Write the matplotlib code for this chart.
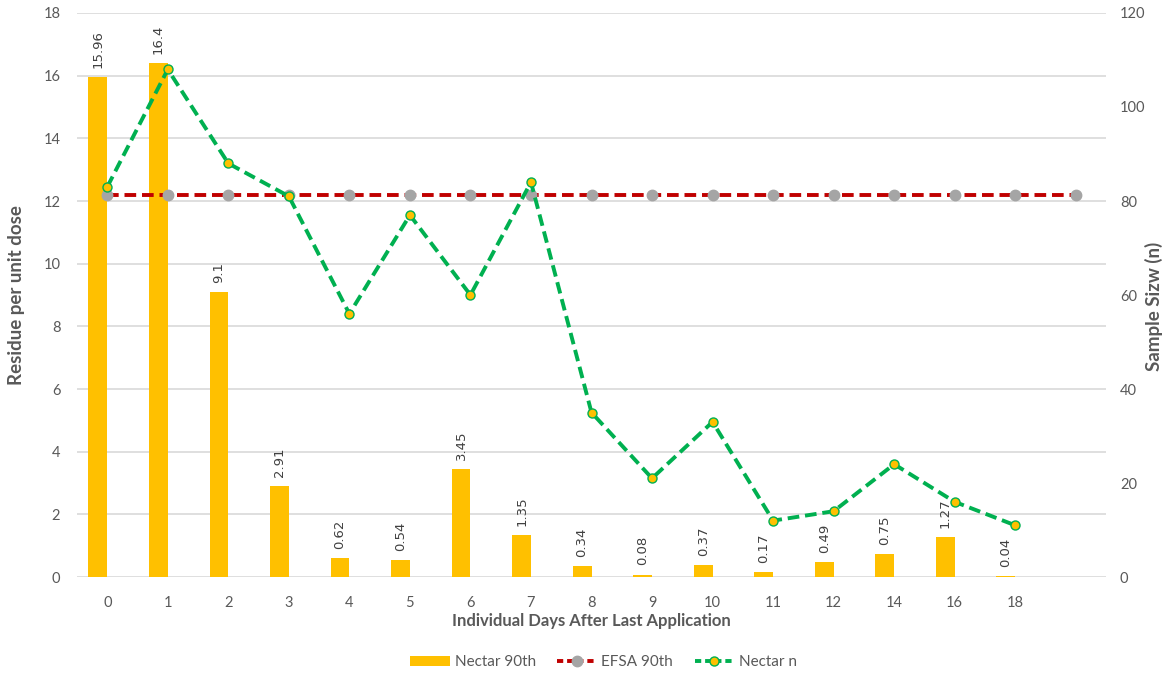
import matplotlib
matplotlib.use("Agg")
import matplotlib.pyplot as plt
import numpy as np
from matplotlib.patches import Patch
from matplotlib.lines import Line2D

days = ["0", "1", "2", "3", "4", "5", "6", "7", "8", "9", "10", "11", "12", "14", "16", "18"]
nectar_90th = [15.96, 16.4, 9.1, 2.91, 0.62, 0.54, 3.45, 1.35, 0.34, 0.08, 0.37, 0.17, 0.49, 0.75, 1.27, 0.04]
efsa_90th = [12.2] * 17  # one extra point in the unlabeled last slot
nectar_n = [83, 108, 88, 81, 56, 77, 60, 84, 35, 21, 33, 12, 14, 24, 16, 11]

plt.rcParams['font.family'] = ['Lato', 'DejaVu Sans']
GRAY = '#595959'

fig = plt.figure(figsize=(11.63, 6.73), dpi=100)
ax = fig.add_axes([0.0662, 0.1426, 0.8848, 0.8381])
ax2 = ax.twinx()

x = np.arange(len(days))
bw = 0.31
ax.bar(x - 0.155, nectar_90th, width=bw, color='#ffc000', zorder=2)
for xi, v in zip(x, nectar_90th):
    ax.annotate(f"{v:g}", (xi - 0.155, v), xytext=(0, 6.5), textcoords='offset points',
                rotation=90, ha='center', va='bottom', fontsize=9.5,
                family='DejaVu Sans', color='#404040')

LW = 2.8
DASH = (3.0, 1.5)
xe = np.arange(len(efsa_90th))
ax.plot(xe, efsa_90th, color='#c00000', lw=LW, dashes=DASH,
        marker='o', ms=7.5, mfc='#a5a5a5', mec='#a5a5a5', zorder=3)

ax2.plot(x, nectar_n, color='#00b050', lw=LW, dashes=DASH,
         marker='o', ms=6.5, mfc='#ffc000', mec='#00b050', mew=1.0, zorder=4)

ax.set_xlim(-0.5, 16.5)
ax.set_ylim(0, 18)
ax2.set_ylim(0, 120)
ax.set_yticks(np.arange(0, 19, 2))
ax2.set_yticks(np.arange(0, 121, 20))
ax.set_xticks(x)
ax.set_xticklabels(days)

ax.grid(axis='y', color='#d9d9d9', lw=1.2, zorder=0)
ax.set_axisbelow(True)
for a in (ax, ax2):
    for s in a.spines.values():
        s.set_visible(False)
    a.tick_params(length=0, colors=GRAY, labelsize=10.5)
ax.tick_params(axis='x', pad=14)
ax.tick_params(axis='y', pad=12)
ax2.tick_params(axis='y', pad=10)

ax.set_xlabel("Individual Days After Last Application", fontsize=12, fontweight='bold',
              color=GRAY, labelpad=2)
ax.set_ylabel("Residue per unit dose", fontsize=13.5, fontweight='bold', color=GRAY)
ax2.set_ylabel("Sample Sizw (n)", fontsize=13.5, fontweight='bold', color=GRAY)
ax.yaxis.set_label_coords(-0.0505, 0.5)
ax2.yaxis.set_label_coords(1.038, 0.48)

handles = [
    Patch(facecolor='#ffc000', edgecolor='none'),
    Line2D([], [], color='#c00000', lw=LW, dashes=(1.6, 1.0), marker='o', ms=7.5,
           mfc='#a5a5a5', mec='#a5a5a5'),
    Line2D([], [], color='#00b050', lw=LW, dashes=(1.6, 1.0), marker='o', ms=6.5,
           mfc='#ffc000', mec='#00b050'),
]
fig.legend(handles, ["Nectar 90th", "EFSA 90th", "Nectar n"], loc='center',
           bbox_to_anchor=(0.519, 0.016), ncol=3, frameon=False, fontsize=11,
           labelcolor=GRAY, handlelength=2.6, handleheight=0.6, columnspacing=1.4,
           handletextpad=0.3)

fig.savefig("out.png", dpi=100)
